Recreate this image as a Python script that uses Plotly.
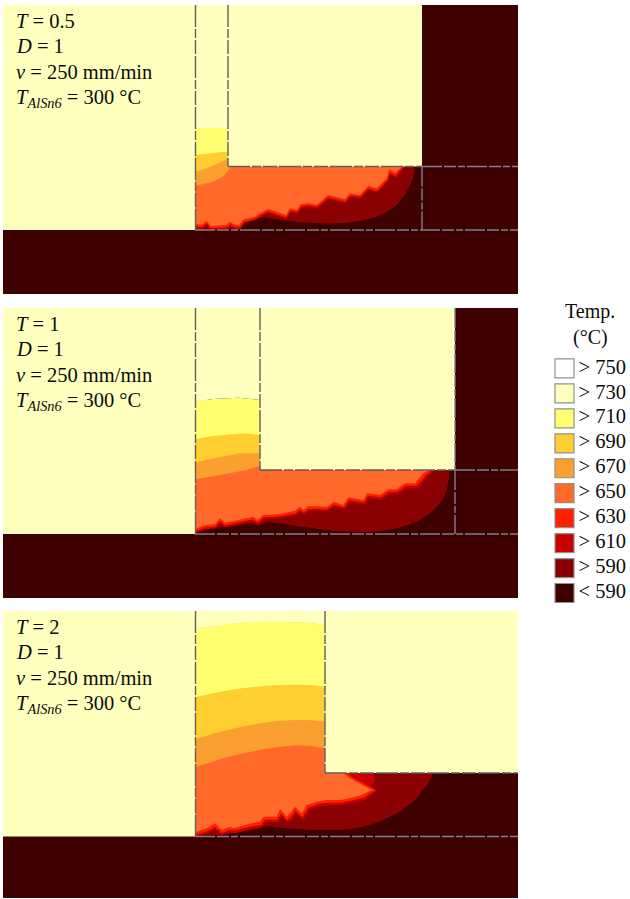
import plotly.graph_objects as go

W, H = 630, 899
FONT = "Liberation Serif"
INK = "#0c0c0c"

# ---- legend ----
LEGEND_LABELS = ["> 750", "> 730", "> 710", "> 690", "> 670", "> 650", "> 630", "> 610", "> 590", "< 590"]
LEGEND_COLORS = ["#ffffff", "#ffffbe", "#ffff70", "#ffcf30", "#fa9f30", "#ff6a2a", "#ff2000", "#c80000", "#8b0000", "#3f0000"]
LEVEL_COLOR = dict(T590="#8b0000", T610="#c80000", T630="#ff2000", T650="#ff6a2a",
                   T670="#fa9f30", T690="#ffcf30", T710="#ffff70", T730="#ffffbe")
LEVEL_EDGE = dict(T590=0, T610=2.2, T630=1.6, T650=0, T670=0, T690=0, T710=0, T730=0)
COLD = "#3f0000"
WALL_DARK = "#5f5f60"
WALL_BLUE = "#7d8091"

# ---- panel frames: x0, x1, y_top, y_bottom (picture length units) ----
P1_FRAME = (3, 518, 5, 294)
P2_FRAME = (3, 518, 308, 598)
P3_FRAME = (3, 518, 611, 898)

P1_TEXT = ["<i>T</i> = 0.5", "<i>D</i> = 1", "<i>v</i> = 250 mm/min", "<i>T</i><sub><i>AlSn6</i></sub> = 300 °C"]
P2_TEXT = ["<i>T</i> = 1", "<i>D</i> = 1", "<i>v</i> = 250 mm/min", "<i>T</i><sub><i>AlSn6</i></sub> = 300 °C"]
P3_TEXT = ["<i>T</i> = 2", "<i>D</i> = 1", "<i>v</i> = 250 mm/min", "<i>T</i><sub><i>AlSn6</i></sub> = 300 °C"]

# ---- panel 1 isotherm regions ----
P1_T590 = [(195, 166), (415, 166), (413.3, 176.7), (410, 185), (404, 196), (396.7, 205), (387.3, 211.7), (376.7, 216.7),
           (361.7, 220.7), (346.7, 222.7), (330, 223.7), (313.3, 223.3), (300, 222.3), (286.7, 220.7), (275, 218.7),
           (263.3, 217.3), (250, 218.5), (243, 221), (240, 229.5), (195, 230)]
P1_T610 = [(195, 166), (404, 166), (396, 176.5), (389, 172.5), (388, 180), (377, 191), (368, 189), (360, 197.5),
           (350, 196), (345, 202), (328, 198), (317, 207.5), (308, 206), (301, 207), (297, 212.5), (290, 211),
           (286, 218), (275, 214.5), (268, 212), (260, 216), (255, 219), (244, 222), (240, 228), (235, 228),
           (230, 224.5), (227, 228), (211, 229), (207, 223.5), (202, 228), (195, 228)]
P1_T630 = [(195, 166), (403, 166), (395, 175), (389, 171), (387, 179), (377, 190), (368, 187.5), (360, 196),
           (350, 194.5), (345, 200.5), (328, 196.5), (317, 206), (308, 204.5), (301, 205.5), (297, 211), (290, 209.5),
           (286, 216.5), (275, 213), (268, 210.5), (260, 214.5), (255, 218), (243.5, 221), (239.5, 226.5), (235, 226.5),
           (230, 223), (227, 226.5), (211, 227.5), (207, 222), (202, 226.5), (195, 225.5)]
P1_T650 = [(195, 128), (228, 128), (228, 166), (402.7, 166), (395, 173.3), (389.3, 169), (386.7, 178.3), (376.7, 188.3),
           (368.3, 186), (360, 195), (350, 193.3), (345, 199.3), (328.3, 195), (316.7, 205), (308.3, 203.3),
           (300.7, 204.3), (296.7, 210), (290, 208.3), (286, 215), (275, 211.7), (268.3, 209), (260, 213.3),
           (255, 216.7), (243.3, 219.3), (239.3, 225), (235, 225), (230, 221.7), (226.7, 225), (210.7, 226),
           (206.7, 220.7), (201.7, 225), (195, 224)]
P1_T670 = [(195, 128), (228, 128), (228, 166), (232, 166), (223, 176.7), (213, 181.7), (195, 186)]
P1_T690 = [(195, 128), (228, 128), (228, 158), (225, 160), (210, 167), (195, 172)]
P1_T710 = [(195, 128), (228, 128), (228, 151.5), (213, 153), (195, 155)]
P1_T730 = [(3, 5), (422, 5), (422, 166.5), (228, 166.5), (228, 128), (195, 128.5), (195, 230), (3, 230)]

# ---- panel 2 isotherm regions ----
P2_T590 = [(195, 469), (449.3, 469), (448.7, 480), (446.7, 490), (442.7, 499.3), (436.7, 506.7), (429.3, 514), (420, 520),
           (408.3, 525), (396.7, 528.3), (385, 530.3), (373.3, 531.7), (360, 532), (346.7, 531.7), (333.3, 530.7),
           (320, 529.3), (308.3, 527.7), (296.7, 526), (281.7, 524), (266.7, 521.7), (258.3, 526), (251.7, 523.3),
           (230, 526.7), (213.3, 528.3), (200, 531.7), (196, 533), (195, 533)]
P2_T610 = [(195, 469), (434, 469), (426, 477), (418, 487), (406, 487.5), (398, 493), (389, 493), (381, 498.5),
           (368, 497), (364, 503.5), (349, 501), (344, 508), (334, 505), (327, 510), (309, 509.5), (304, 513),
           (300, 510), (296, 514), (281, 517), (264, 518), (258, 523), (253, 520), (239, 523), (225, 526),
           (220, 521.5), (215, 527.5), (205, 528), (197, 531.5), (195, 532)]
P2_T630 = [(195, 469), (432, 469), (425, 475), (416.5, 485), (405.5, 485), (397, 491), (388.5, 491), (380.5, 496.5),
           (367.5, 495), (363.5, 501.5), (348.5, 499), (343.5, 506.5), (334, 503.5), (327, 508.5), (308.5, 508),
           (303.5, 511.5), (300, 508.5), (295.5, 512.5), (280.5, 515.5), (263.5, 516.5), (257.5, 521.5), (253, 518.5),
           (238.5, 521.5), (225, 524.5), (220, 520), (215, 526), (205, 526.5), (197, 530), (195, 530.5)]
P2_T650 = [(195, 400), (260, 400), (260, 469), (430, 469), (423.3, 473.3), (415, 483.3), (405, 483.3), (396.7, 489.3),
           (388.3, 489.3), (380, 495), (367.3, 493.3), (363.3, 500), (348.3, 497.3), (343.3, 505), (334, 501.7),
           (326.7, 506.7), (308.3, 506), (303.3, 510), (300, 506.7), (295, 510.7), (280, 514), (263.3, 515),
           (257.3, 520), (253.3, 516.7), (238.3, 520), (225, 522.7), (220, 518.3), (215, 524.3), (205, 525),
           (196.7, 528.3), (195, 529)]
P2_T670 = [(195, 400), (260, 400), (260, 465.7), (246.7, 470), (220, 475), (195, 479.3)]
P2_T690 = [(195, 400), (260, 400), (260, 453.3), (240, 453.3), (213, 458.3), (195, 462.7)]
P2_T710 = [(195, 401.7), (213, 399), (238, 397.7), (260, 400), (260, 435), (243, 433.3), (213, 436), (195, 439.3)]
P2_T730 = [(3, 308), (455, 308), (455, 470), (260, 470), (260, 400), (238, 397.7), (213, 399), (195, 401.7), (195, 534), (3, 534)]

# ---- panel 3 isotherm regions ----
P3_T590 = [(195, 773), (433.3, 773), (429.3, 781.7), (423.3, 790), (416, 799), (406.7, 806.7), (397.3, 813.3), (386.7, 818.3),
           (375, 823.3), (363.3, 826.7), (351.7, 829), (340, 830), (326.7, 830.3), (313.3, 830), (301.7, 829.3), (290, 828.3),
           (276.7, 827), (263.3, 826), (260, 828.3), (233.3, 832.7), (220, 835), (195, 835.5)]
P3_T610 = [(195, 773), (372, 773), (373.5, 780), (370, 786), (374.5, 791), (364, 799), (352, 802), (342, 804), (328, 804),
           (318, 805.5), (309, 809), (303, 818), (295, 811), (292, 818), (288, 821), (281, 814), (278, 821), (265, 821),
           (262, 826), (253, 827.5), (235, 832), (230, 831), (222, 834), (215, 828), (207, 832.5), (197, 835.5), (195, 836)]
P3_T630 = [(195, 773), (346, 773), (352, 778), (374, 790), (363, 797), (351, 800), (341, 802), (327, 802), (317, 803.5),
           (308, 807), (302, 816), (295, 809), (291, 815.5), (287, 819), (281, 812), (277, 819), (264, 819), (261, 824),
           (252, 825.5), (234, 830), (230, 829), (222, 832), (215, 826), (207, 830.5), (197, 834), (195, 834)]
P3_T650 = [(195, 620), (325, 620), (325, 773), (343, 773), (350, 778.3), (371.7, 790), (361.7, 795), (350, 798.3),
           (340, 800), (326.7, 800), (316.7, 801.7), (306.7, 805), (301.7, 813.3), (295, 806.7), (290, 813.3),
           (286.7, 816.7), (280, 809), (276.7, 816.7), (263.3, 816.7), (260, 821.7), (251.7, 823.3), (233.3, 828.3),
           (230, 826.7), (221.7, 830), (215, 823.3), (206.7, 828.3), (196.7, 831.7), (195, 832)]
P3_T670 = [(195, 620), (325, 620), (325, 748.3), (311.7, 746), (296.7, 745.3), (280, 746.7), (263.3, 749.3), (243.3, 753.3),
           (223, 758.3), (210, 762.3), (195, 767.3)]
P3_T690 = [(195, 620), (325, 620), (325, 721.7), (311.7, 720.3), (296.7, 720), (280, 720.7), (263.3, 722.7), (241.7, 726.7),
           (220, 731.7), (208.3, 735), (195, 739.3)]
P3_T710 = [(195, 629.3), (208.3, 626.7), (220, 625), (241.7, 622.7), (263.3, 621.7), (280, 621.7), (296.7, 622.3),
           (311.7, 623.3), (325, 625), (325, 686.7), (311.7, 685.3), (296.7, 684.7), (280, 685), (263.3, 686),
           (241.7, 688.3), (220, 691.7), (208.3, 694.3), (195, 697.3)]
P3_T730 = [(3, 611), (518, 611), (518, 773), (325, 773), (325, 625), (311.7, 623.3), (296.7, 622.3), (280, 621.7), (263.3, 621.7),
           (241.7, 622.7), (220, 625), (208.3, 626.7), (195, 629.3), (195, 836.5), (3, 836.5)]

# ---- domain boundaries (dashed) ----
P1_WALLS_DARK = [[(195.5, 5), (195.5, 230)], [(228, 5), (228, 166.5)], [(228, 166.5), (422, 166.5)]]
P1_WALLS_BLUE = [[(195, 230), (518, 230)], [(422, 166.5), (422, 230)], [(422, 166.5), (518, 166.5)]]
P2_WALLS_DARK = [[(195.5, 308), (195.5, 534)], [(260, 308), (260, 470)], [(260, 470), (455, 470)]]
P2_WALLS_BLUE = [[(195, 534), (518, 534)], [(455, 470), (455, 534)], [(455, 470), (518, 470)], [(455, 308), (455, 470)]]
P3_WALLS_DARK = [[(195.5, 611), (195.5, 836.5)], [(325, 611), (325, 773)], [(325, 773), (518, 773)]]
P3_WALLS_BLUE = [[(195, 836.5), (518, 836.5)]]

PANELS = [
    dict(frame=P1_FRAME, text=P1_TEXT, walls_dark=P1_WALLS_DARK, walls_blue=P1_WALLS_BLUE,
         regions=dict(T590=P1_T590, T610=P1_T610, T630=P1_T630, T650=P1_T650, T670=P1_T670, T690=P1_T690, T710=P1_T710, T730=P1_T730)),
    dict(frame=P2_FRAME, text=P2_TEXT, walls_dark=P2_WALLS_DARK, walls_blue=P2_WALLS_BLUE,
         regions=dict(T590=P2_T590, T610=P2_T610, T630=P2_T630, T650=P2_T650, T670=P2_T670, T690=P2_T690, T710=P2_T710, T730=P2_T730)),
    dict(frame=P3_FRAME, text=P3_TEXT, walls_dark=P3_WALLS_DARK, walls_blue=P3_WALLS_BLUE,
         regions=dict(T590=P3_T590, T610=P3_T610, T630=P3_T630, T650=P3_T650, T670=P3_T670, T690=P3_T690, T710=P3_T710, T730=P3_T730)),
]

fig = go.Figure()
layout_axes = {}
annotations = []


def poly(pts, color, ax, edge=0):
    xs = [p[0] for p in pts] + [pts[0][0]]
    ys = [p[1] for p in pts] + [pts[0][1]]
    fig.add_trace(go.Scatter(x=xs, y=ys, mode="lines", fill="toself", fillcolor=color,
                             line=dict(width=edge, color=color), hoverinfo="skip", showlegend=False,
                             xaxis=f"x{ax}", yaxis=f"y{ax}"))


def wall(seg, color, ax, dash):
    fig.add_trace(go.Scatter(x=[p[0] for p in seg], y=[p[1] for p in seg], mode="lines",
                             line=dict(width=1.4, color=color, dash=dash), hoverinfo="skip", showlegend=False,
                             xaxis=f"x{ax}", yaxis=f"y{ax}"))


for i, p in enumerate(PANELS, start=1):
    x0, x1, yt, yb = p["frame"]
    poly([(x0, yt), (x1, yt), (x1, yb), (x0, yb)], COLD, i)
    for level in ["T590", "T610", "T630", "T650", "T670", "T690", "T710", "T730"]:
        poly(p["regions"][level], LEVEL_COLOR[level], i, LEVEL_EDGE[level])
    for seg in p["walls_dark"]:
        wall(seg, WALL_DARK, i, "22px,2px,9px,2px,14px,2px")
    for seg in p["walls_blue"]:
        wall(seg, WALL_BLUE, i, "20px,2px,12px,2px,7px,2px")
    layout_axes[f"xaxis{i}"] = dict(domain=[x0 / W, x1 / W], range=[x0, x1], visible=False, fixedrange=True)
    layout_axes[f"yaxis{i}"] = dict(domain=[1 - yb / H, 1 - yt / H], range=[yb, yt], visible=False, fixedrange=True)
    for j, line in enumerate(p["text"]):
        annotations.append(dict(x=14, y=yt + 16 + j * 25.3 + (2 if j == 3 else 0), xref=f"x{i}", yref=f"y{i}", text=line,
                                showarrow=False, xanchor="left", yanchor="middle",
                                font=dict(family=FONT, size=20.5, color=INK)))

# legend drawn as its own small axes
idx = list(range(len(LEGEND_LABELS)))
fig.add_trace(go.Scatter(x=[0] * len(idx), y=idx, mode="markers",
                         marker=dict(symbol="square", size=19, color=LEGEND_COLORS, line=dict(width=1.2, color="#909090")),
                         hoverinfo="skip", showlegend=False, xaxis="x4", yaxis="y4", cliponaxis=False))
fig.add_trace(go.Scatter(x=[14] * len(idx), y=idx, mode="text", text=LEGEND_LABELS, textposition="middle right",
                         textfont=dict(family=FONT, size=20.5, color=INK),
                         hoverinfo="skip", showlegend=False, xaxis="x4", yaxis="y4", cliponaxis=False))
layout_axes["xaxis4"] = dict(domain=[552 / W, 630 / W], range=[-12.5, 65.5], visible=False, fixedrange=True)
layout_axes["yaxis4"] = dict(domain=[1 - 605.5 / H, 1 - 356 / H], range=[9.5, -0.5], visible=False, fixedrange=True)
annotations.append(dict(x=590 / W, y=1 - 311.5 / H, xref="paper", yref="paper", text="Temp.", showarrow=False,
                        font=dict(family=FONT, size=20, color=INK), xanchor="center", yanchor="middle"))
annotations.append(dict(x=590 / W, y=1 - 337 / H, xref="paper", yref="paper", text="(°C)", showarrow=False,
                        font=dict(family=FONT, size=20, color=INK), xanchor="center", yanchor="middle"))

fig.update_layout(width=W, height=H, margin=dict(l=0, r=0, t=0, b=0), paper_bgcolor="#ffffff", plot_bgcolor="#ffffff",
                  showlegend=False, annotations=annotations, **layout_axes)

fig.write_html("out.html", config=dict(displayModeBar=False),
               post_script="document.body.style.margin='0';document.documentElement.style.overflow='hidden';")
